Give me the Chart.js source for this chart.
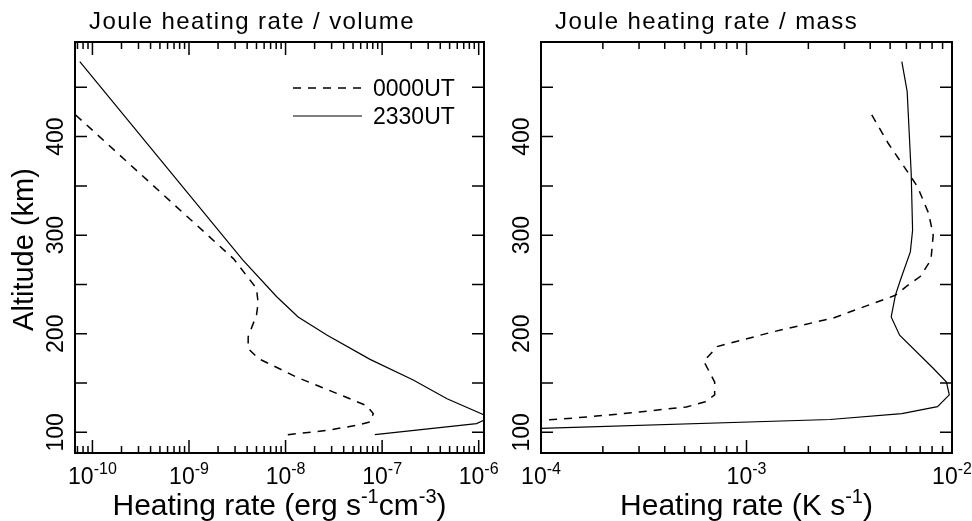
<!DOCTYPE html>
<html>
<head>
<meta charset="utf-8">
<script src="https://cdn.jsdelivr.net/npm/chart.js@4.4.1/dist/chart.umd.min.js"></script>
<style>
  html, body { margin: 0; padding: 0; background: #fff; }
  #wrap { position: relative; width: 972px; height: 521px; }
  #wrap canvas { position: absolute; left: 0; top: 0; }
</style>
</head>
<body>
<div id="wrap">
  <canvas id="volumeChart" width="972" height="521"></canvas>
  <canvas id="massChart" width="972" height="521"></canvas>
</div>
<script>
// Joule heating rate / volume (erg s^-1 cm^-3) against altitude (km)
const volAlt0000 = [422, 276, 261, 246, 231, 219, 197, 185, 175, 156, 138, 127, 119, 110.5, 107, 102, 97];
const vol0000 = [6.7e-11, 2.9e-9, 3.8e-9, 5.0e-9, 5.2e-9, 5.0e-9, 4.1e-9, 4.1e-9, 5.2e-9, 1.3e-8, 3.7e-8, 6.9e-8, 8.1e-8, 7.5e-8, 5.4e-8, 2.7e-8, 9.5e-9];
const volAlt2330 = [476, 275, 237.5, 217, 198.5, 174, 153, 134, 117.3, 115, 108.8, 97.7];
const vol2330 = [7.4e-11, 3.6e-9, 8.1e-9, 1.35e-8, 2.7e-8, 7.5e-8, 2.1e-7, 4.7e-7, 1.16e-6, 1.3e-6, 9.5e-7, 8.4e-8];

// Joule heating rate / mass (K s^-1) against altitude (km)
const massAlt0000 = [422, 393, 366, 349, 322, 300, 275, 258, 248, 239, 216, 202, 187, 172, 151, 138, 131, 125.7, 120.6, 115.5, 112, 107];
const mass0000 = [4.07e-3, 4.9e-3, 6.0e-3, 6.8e-3, 7.7e-3, 8.1e-3, 7.9e-3, 7.0e-3, 6.0e-3, 5.3e-3, 2.65e-3, 1.35e-3, 7.2e-4, 6.2e-4, 7.0e-4, 7.0e-4, 6.3e-4, 5.1e-4, 3.0e-4, 1.67e-4, 1.0e-4, 5.2e-5];
const massAlt2330 = [476, 446, 363, 305, 283, 254, 239, 217, 198.5, 165, 151, 138, 126, 119, 113, 104, 98];
const mass2330 = [5.7e-3, 6.05e-3, 6.33e-3, 6.43e-3, 6.27e-3, 5.6e-3, 5.3e-3, 5.06e-3, 5.56e-3, 8.1e-3, 9.4e-3, 9.7e-3, 8.5e-3, 5.7e-3, 2.55e-3, 1.0e-4, 1.15e-5];

// axes
const altTicks = [100, 150, 200, 250, 300, 350, 400, 450];
const altLabels = [100, 200, 300, 400];
const volExps = [-10, -9, -8, -7, -6];
const massExps = [-4, -3, -2];

const FONT = '"Liberation Sans", Arial, Helvetica, sans-serif';

function richWidth(ctx, parts, size, supSize) {
    let w = 0;
    parts.forEach(([t, sup]) => {
        ctx.font = `${sup ? supSize : size}px ${FONT}`;
        w += ctx.measureText(t).width;
    });
    return w;
}

function drawRich(ctx, parts, x, y, size, supSize, rise) {
    parts.forEach(([t, sup]) => {
        ctx.font = `${sup ? supSize : size}px ${FONT}`;
        ctx.fillText(t, x, sup ? y - rise : y);
        x += ctx.measureText(t).width;
    });
}

function line(ctx, x1, y1, x2, y2) {
    ctx.moveTo(x1, y1);
    ctx.lineTo(x2, y2);
}

// box, inward ticks, labels, titles and legend
const framePlugin = {
    id: 'frame',
    afterDatasetsDraw(chart, args, o) {
        const { ctx, chartArea: a } = chart;
        const xs = chart.scales.x, ys = chart.scales.y;
        ctx.save();
        ctx.strokeStyle = '#000';
        ctx.fillStyle = '#000';
        ctx.setLineDash([]);

        ctx.lineWidth = 2;
        ctx.strokeRect(a.left, a.top, a.right - a.left, a.bottom - a.top);

        ctx.lineWidth = 1.5;
        ctx.beginPath();
        altTicks.forEach(v => {
            const py = ys.getPixelForValue(v);
            line(ctx, a.left, py, a.left + 12, py);
            line(ctx, a.right - 12, py, a.right, py);
        });
        const lo = Math.floor(Math.log10(xs.min)), hi = Math.ceil(Math.log10(xs.max));
        for (let d = lo; d <= hi; d++) {
            for (let m = 1; m <= 9; m++) {
                const v = m * Math.pow(10, d);
                if (v < xs.min * 0.999 || v > xs.max * 1.001) continue;
                const px = xs.getPixelForValue(v);
                const len = m === 1 ? 13 : 7;
                line(ctx, px, a.bottom, px, a.bottom - len);
                line(ctx, px, a.top, px, a.top + len);
            }
        }
        ctx.stroke();

        // y tick labels, rotated
        ctx.font = `23px ${FONT}`;
        ctx.textAlign = 'center';
        ctx.textBaseline = 'alphabetic';
        altLabels.forEach(v => {
            ctx.save();
            ctx.translate(a.left - 12, ys.getPixelForValue(v));
            ctx.rotate(-Math.PI / 2);
            ctx.fillText(String(v), 0, 0);
            ctx.restore();
        });

        // x tick labels 10^n
        ctx.textAlign = 'left';
        o.exps.forEach(e => {
            const parts = [['10', 0], [String(e), 1]];
            const w = richWidth(ctx, parts, 23, 16);
            const px = xs.getPixelForValue(Math.pow(10, e));
            drawRich(ctx, parts, px - w / 2, a.bottom + 31, 23, 16, 10);
        });

        // x title
        const tw = richWidth(ctx, o.xTitle, 30, 20);
        drawRich(ctx, o.xTitle, (a.left + a.right) / 2 - tw / 2, a.bottom + 62, 30, 20, 12);

        // y title
        if (o.yTitle) {
            ctx.save();
            ctx.font = `29px ${FONT}`;
            ctx.textAlign = 'center';
            ctx.translate(a.left - 42, (a.top + a.bottom) / 2 + 2);
            ctx.rotate(-Math.PI / 2);
            ctx.fillText(o.yTitle, 0, 0);
            ctx.restore();
        }

        // panel title
        ctx.save();
        ctx.font = `24px ${FONT}`;
        ctx.letterSpacing = '1.4px';
        ctx.fillText(o.title, a.left + 14, a.top - 13);
        ctx.restore();

        // legend
        if (o.legend) {
            chart.data.datasets.forEach((ds, i) => {
                const ly = a.top + 46 + i * 28;
                ctx.beginPath();
                ctx.lineWidth = ds.borderWidth;
                ctx.setLineDash(ds.borderDash || []);
                line(ctx, a.left + 218, ly, a.left + 287, ly);
                ctx.stroke();
                ctx.setLineDash([]);
                ctx.font = `23px ${FONT}`;
                ctx.fillText(ds.label, a.left + 298, ly + 8);
            });
        }
        ctx.restore();
    }
};

function toPoints(values, alts) {
    return values.map((v, i) => ({ x: v, y: alts[i] }));
}

function createProfileChart(canvasId, padding, xMin, xMax, series, frame) {
    const ctx = document.getElementById(canvasId).getContext('2d');
    new Chart(ctx, {
        type: 'line',
        data: {
            datasets: [{
                label: '0000UT',
                data: toPoints(series[0], series[1]),
                borderColor: '#000',
                borderWidth: 1.5,
                borderDash: [8, 7],
                pointRadius: 0,
                fill: false,
                tension: 0
            }, {
                label: '2330UT',
                data: toPoints(series[2], series[3]),
                borderColor: '#000',
                borderWidth: 1.2,
                pointRadius: 0,
                fill: false,
                tension: 0
            }]
        },
        options: {
            responsive: false,
            animation: false,
            devicePixelRatio: 1,
            layout: { padding: padding, autoPadding: false },
            scales: {
                x: { type: 'logarithmic', min: xMin, max: xMax, display: false },
                y: { type: 'linear', min: 79, max: 496, display: false }
            },
            plugins: {
                legend: { display: false },
                tooltip: { enabled: false },
                frame: frame
            }
        },
        plugins: [framePlugin]
    });
}

createProfileChart('volumeChart', { left: 75, top: 42, right: 488, bottom: 68 }, 6.6e-11, 1.135e-6,
    [vol0000, volAlt0000, vol2330, volAlt2330], {
        title: 'Joule heating rate / volume',
        exps: volExps,
        xTitle: [['Heating rate (erg s', 0], ['-1', 1], ['cm', 0], ['-3', 1], [')', 0]],
        yTitle: 'Altitude (km)',
        legend: true
    });

createProfileChart('massChart', { left: 541, top: 42, right: 20, bottom: 68 }, 1e-4, 1e-2,
    [mass0000, massAlt0000, mass2330, massAlt2330], {
        title: 'Joule heating rate / mass',
        exps: massExps,
        xTitle: [['Heating rate (K s', 0], ['-1', 1], [')', 0]],
        legend: false
    });
</script>
</body>
</html>
